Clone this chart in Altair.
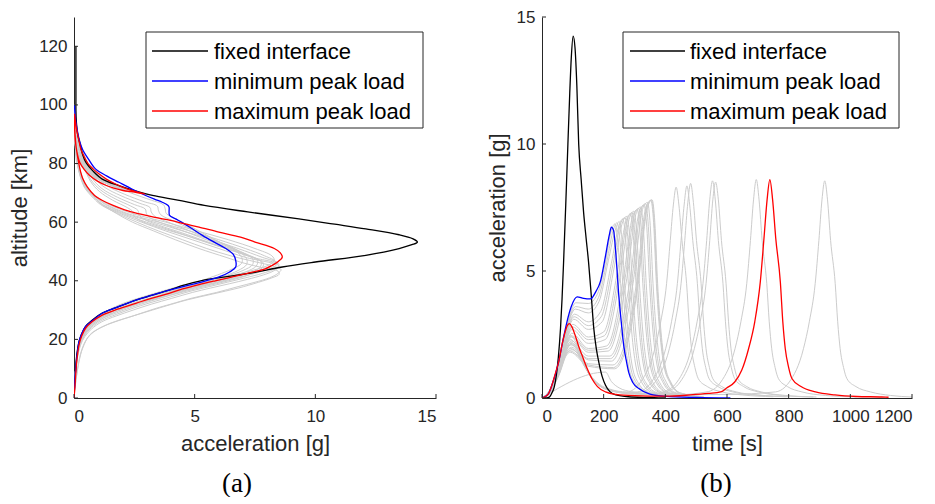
import altair as alt
import pandas as pd

# ---------------- panel (a): (altitude km, acceleration g) ----------------
black_a = [(120,0.08),(110,0.08),(102,0.08),(98,0.08),(94,0.1),(90,0.15),(86,0.27),(83,0.36),(80.3,0.5),(77.5,0.78),(74.7,1.17),(72.5,1.86),(70.8,2.5),(69.1,3.25),(67.5,4.3),(65.7,5.4),(63.5,7.2),(61.1,9.32),(59.3,10.8),(57.7,12.09),(55.7,13.47),(54.3,14.05),(53.2,14.23),(52.3,14.0),(51,13.47),(48.7,12.09),(46.4,10.0),(44.7,8.63),(42.5,7.25),(40,5.25),(38.5,4.55),(36.8,3.94),(35,3.2),(33.4,2.56),(31,1.8),(29,1.17),(26.5,0.75),(24.4,0.48),(21.5,0.3),(19.3,0.21),(15,0.12),(10,0.07),(5,0.03),(0,0)]
blue_a = [(100,0.02),(96,0.05),(92,0.12),(88,0.22),(84.9,0.35),(81.5,0.6),(78.1,0.9),(75.8,1.35),(73.6,1.86),(71.3,2.4),(69.1,2.97),(67.8,3.35),(66.8,3.66),(65.7,3.9),(65.1,3.94),(63.4,3.94),(62.3,3.96),(61.1,4.21),(60,4.45),(58,4.85),(55.5,5.32),(53,5.85),(51,6.29),(49,6.6),(47,6.7),(44.7,6.7),(43,6.45),(41.3,6.01),(39.6,5.32),(38.2,4.6),(36.8,3.94),(35,3.2),(33.4,2.56),(31,1.8),(28.9,1.17),(26.5,0.78),(24.4,0.48),(21.5,0.3),(19.3,0.21),(15,0.13),(10,0.07),(5,0.03),(0,0)]
red_a = [(97,0.02),(92,0.1),(88,0.2),(85,0.28),(82.7,0.4),(80,0.58),(78.1,0.8),(76.5,1.03),(74.7,1.34),(73.2,1.68),(71.9,2.03),(70.6,2.5),(69.6,2.93),(70.3,2.45),(70.8,2.03),(71.6,1.65),(72.5,1.34),(74,0.97),(75.9,0.65),(78,0.42),(80.4,0.24),(84,0.12),(88,0.05),(93,0.02),(96,0.01),(92,0.03),(88,0.06),(84.9,0.1),(80,0.2),(77,0.28),(74.7,0.37),(72,0.55),(69.1,0.85),(67.3,1.2),(65.7,1.62),(64.2,2.1),(62.8,2.72),(61.6,3.35),(60.6,4.0),(59.4,4.6),(58.3,5.18),(56.6,6.0),(54.9,6.9),(53.2,7.5),(51,8.3),(49.5,8.55),(48.1,8.63),(46.5,8.45),(45.2,8.2),(44,7.9),(42.7,7.25),(41.3,6.56),(40,5.85),(38.7,5.18),(37.2,4.5),(35.7,3.94),(34,3.2),(32.3,2.56),(30.3,1.8),(28.3,1.17),(26,0.75),(23.8,0.48),(21,0.31),(18.1,0.21),(13,0.12),(7.9,0.07),(3,0.03),(0,0)]

gray_a1 = [(100,0.02),(92,0.12),(86,0.3),(80,0.58),(76,0.95),(73,1.5),(70,2.35),(67.5,3.2),(66,3.7),(64.5,3.78),(63,3.82),(61,4.25),(58,4.95),(54,5.85),(50.5,6.65),(48,6.95),(46,6.95),(44,6.55),(42,5.95),(40,5.25),(37.5,4.1),(35,3.05),(32,1.95),(28.5,1.1),(24.5,0.5),(20,0.25),(12,0.09),(0,0)]
gray_a2 = [(100,0.02),(92,0.11),(86,0.28),(80,0.52),(76,0.85),(72.5,1.35),(69.5,2.1),(67,2.9),(65.5,3.45),(64,3.5),(62.5,3.6),(60.5,4.1),(57.5,4.9),(54,5.8),(50.5,6.75),(47.5,7.15),(45.5,7.15),(43.5,6.8),(41.5,6.2),(39.5,5.4),(37,4.2),(34.5,3.05),(31.5,1.95),(28,1.08),(24,0.5),(19.5,0.24),(11,0.08),(0,0)]
gray_a3 = [(100,0.02),(92,0.1),(86,0.25),(80,0.48),(75.5,0.8),(72,1.25),(69,1.95),(66.5,2.7),(65,3.15),(63.5,3.2),(62,3.35),(60,3.9),(57,4.8),(53.5,5.8),(50,6.9),(47.5,7.4),(45.5,7.4),(43.5,7.0),(41.5,6.3),(39.5,5.5),(37,4.3),(34.5,3.1),(31.5,1.95),(28,1.1),(24,0.5),(19.5,0.24),(11,0.08),(0,0)]
gray_a4 = [(100,0.02),(92,0.09),(86,0.22),(80,0.44),(75,0.75),(71.5,1.15),(68.5,1.8),(66,2.5),(64.5,2.95),(63,3.0),(61.5,3.15),(59.5,3.7),(56.5,4.7),(53,5.8),(49.5,7.0),(47,7.6),(45,7.55),(43,7.1),(41,6.4),(39,5.5),(36.5,4.3),(34,3.1),(31,1.95),(27.5,1.1),(23.5,0.5),(19,0.24),(11,0.08),(0,0)]
gray_a5 = [(100,0.02),(92,0.09),(86,0.2),(80,0.4),(74.5,0.7),(71,1.1),(68,1.7),(65.5,2.35),(64,2.65),(62.5,2.7),(61,2.9),(59,3.5),(56,4.6),(52.5,5.8),(49,7.1),(46.5,7.75),(44.5,7.7),(42.5,7.2),(40.5,6.4),(38.5,5.4),(36,4.2),(33.5,3.0),(30.5,1.9),(27,1.05),(23,0.5),(18.5,0.24),(10,0.08),(0,0)]
gray_a6 = [(100,0.02),(92,0.08),(86,0.18),(80,0.37),(74,0.68),(70.5,1.05),(67.5,1.6),(65,2.2),(63.5,2.45),(62,2.5),(60.5,2.75),(58.5,3.4),(55.5,4.6),(52,5.9),(48.5,7.2),(46,7.85),(44,7.75),(42,7.25),(40,6.4),(38,5.4),(35.5,4.2),(33,3.0),(30,1.9),(26.5,1.05),(22.5,0.5),(18,0.24),(10,0.08),(0,0)]
gray_s1 = [(97,0.01),(92,0.08),(88,0.16),(85,0.25),(82,0.38),(79,0.62),(76.5,0.95),(74.2,1.35),(72.3,1.85),(71,2.25),(70.3,2.45),(71,2.05),(72.2,1.65),(73.8,1.2),(76,0.75),(79,0.42),(83,0.18),(88,0.06),(94,0.02),(90,0.03),(85,0.08),(80,0.18),(75,0.36),(72,0.55),(70,0.75),(68,1.05),(66,1.45),(63,2.4),(60,3.8),(57,5.1),(54,6.4),(51,7.5),(48.5,8.2),(47,8.3),(45.5,8.1),(44,7.6),(42.5,6.9),(41,6.2),(39.5,5.45),(38,4.75),(36,3.95),(34,3.15),(32,2.4),(30,1.75),(28,1.15),(25.5,0.72),(23,0.45),(20,0.28),(16,0.16),(10,0.07),(0,0)]
gray_s2 = [(97,0.01),(92,0.07),(88,0.15),(85,0.24),(82,0.36),(79,0.58),(76.5,0.9),(74.2,1.28),(72.4,1.75),(71.2,2.1),(70.6,2.3),(71.3,1.95),(72.5,1.55),(74.1,1.12),(76.3,0.7),(79.5,0.38),(83.5,0.16),(88.5,0.05),(94,0.02),(90,0.03),(85,0.08),(80,0.17),(75,0.34),(72,0.52),(70,0.72),(68,1.0),(66,1.35),(63,2.2),(60,3.5),(57,4.8),(54,6.0),(51,7.1),(48.5,7.9),(46.5,8.35),(45,8.15),(43.5,7.65),(42,6.95),(40.5,6.2),(39,5.45),(37.5,4.75),(35.5,3.95),(33.5,3.15),(31.5,2.4),(29.5,1.75),(27.5,1.15),(25,0.72),(22.5,0.45),(19.5,0.27),(15.5,0.15),(10,0.07),(0,0)]
gray_s3 = [(97,0.01),(92,0.07),(88,0.14),(85,0.23),(82,0.35),(79,0.56),(76.5,0.86),(74.3,1.22),(72.6,1.65),(71.5,2.0),(70.9,2.2),(71.6,1.85),(72.8,1.45),(74.5,1.05),(76.7,0.66),(80,0.35),(84,0.15),(89,0.05),(94,0.02),(90,0.03),(85,0.07),(80,0.16),(75,0.32),(72,0.5),(70,0.7),(68,0.97),(66,1.3),(63,2.1),(60,3.3),(57,4.5),(54,5.7),(51,6.8),(48,7.8),(46,8.45),(44.5,8.2),(43,7.7),(41.5,7.0),(40,6.25),(38.5,5.5),(37,4.75),(35,3.95),(33,3.15),(31,2.4),(29,1.75),(27,1.15),(24.5,0.72),(22,0.45),(19,0.27),(15,0.15),(10,0.07),(0,0)]
gray_s4 = [(97,0.01),(92,0.07),(88,0.14),(85,0.22),(82,0.34),(79,0.54),(76.5,0.83),(74.4,1.18),(72.8,1.58),(71.8,1.9),(71.2,2.1),(71.9,1.78),(73.1,1.4),(74.8,1.0),(77,0.63),(80.3,0.33),(84.5,0.14),(89.5,0.05),(94,0.02),(90,0.03),(85,0.07),(80,0.15),(75,0.3),(72,0.48),(70,0.67),(68,0.92),(66,1.2),(63,2.0),(60,3.0),(57,4.1),(54,5.2),(51,6.3),(48,7.4),(45.5,8.5),(44,8.3),(42.5,7.8),(41,7.1),(39.5,6.35),(38,5.6),(36.5,4.85),(34.5,4.0),(32.5,3.15),(30.5,2.4),(28.5,1.75),(26.5,1.15),(24,0.72),(21.5,0.45),(18.5,0.27),(14.5,0.15),(9.5,0.07),(0,0)]
gray_s5 = [(97,0.01),(92,0.06),(88,0.13),(85,0.21),(82,0.33),(79,0.52),(76.5,0.8),(74.5,1.14),(73,1.5),(72.1,1.8),(71.5,2.0),(72.2,1.7),(73.4,1.33),(75.1,0.95),(77.3,0.6),(80.6,0.31),(84.8,0.13),(90,0.05),(94,0.02),(90,0.03),(85,0.07),(80,0.14),(75,0.28),(72,0.45),(70,0.64),(68,0.88),(66,1.15),(63,1.9),(60,2.8),(57,3.8),(54,4.9),(51,6.0),(48,7.1),(45,8.5),(43.5,8.3),(42,7.85),(40.5,7.2),(39,6.45),(37.5,5.65),(36,4.9),(34,4.05),(32,3.2),(30,2.45),(28,1.75),(26,1.15),(23.5,0.72),(21,0.45),(18,0.27),(14,0.15),(9,0.07),(0,0)]
gray_s6 = [(97,0.01),(92,0.06),(88,0.12),(85,0.2),(82,0.31),(79,0.5),(76.5,0.77),(74.6,1.1),(73.2,1.43),(72.3,1.7),(71.8,1.9),(72.5,1.6),(73.7,1.25),(75.4,0.9),(77.6,0.56),(81,0.29),(85,0.12),(90,0.04),(94,0.02),(90,0.03),(85,0.06),(80,0.13),(76,0.25),(72,0.42),(70,0.6),(68,0.83),(66,1.1),(63,1.8),(60,2.6),(57,3.5),(54,4.5),(51,5.5),(48.5,6.5),(46.5,7.5),(45,8.25),(43.8,8.58),(42.5,8.45),(41,8.1),(39.5,7.5),(38,6.8),(36,5.9),(34,4.85),(32,4.0),(30.6,3.4),(28,2.45),(26,1.7),(24,1.1),(21.5,0.65),(17,0.36),(12.5,0.21),(6,0.08),(0,0)]
gray_s7 = [(97,0.01),(92,0.05),(88,0.11),(85,0.18),(82,0.28),(79,0.45),(76.5,0.68),(75,0.88),(74,1.0),(74.8,0.85),(76.2,0.65),(78.5,0.42),(81.5,0.24),(85.5,0.1),(90,0.04),(94,0.02),(90,0.03),(85,0.06),(80,0.12),(76,0.3),(72,0.5),(69.5,0.75),(66.8,1.04),(63,1.75),(60,2.42),(57,3.3),(54,4.2),(51,5.18),(48,6.3),(46,7.05),(44.5,7.8),(43.3,8.45),(42.2,8.5),(41,8.2),(39.5,7.65),(37.5,6.8),(35.5,5.75),(33.5,4.7),(31.5,3.85),(30,3.25),(27.5,2.25),(25.5,1.5),(23,0.9),(20.5,0.56),(16.5,0.32),(12,0.19),(6,0.08),(0,0)]

# ---------------- panel (b): (time s, acceleration g) ----------------
black_b = [(0,0),(15,0.0),(25,0.05),(32,0.2),(40,0.45),(46,0.85),(53,1.6),(60,2.73),(65,3.9),(70,5.35),(77,7.6),(84,10.0),(90,12.0),(95,13.4),(101,14.25),(107,13.8),(113,12.3),(119,10.0),(127,8.6),(135,7.3),(143,6.3),(151,5.35),(160,4.0),(168,2.73),(176,1.95),(184,1.42),(195,0.85),(206,0.5),(220,0.25),(240,0.12),(280,0.05),(350,0.02),(400,0.0)]
blue_b = [(0,0),(20,0.15),(32,0.5),(54,1.42),(70,2.4),(81,3.0),(95,3.6),(114,3.98),(135,3.92),(157,3.9),(175,4.2),(189,4.57),(206,5.6),(218,6.4),(225,6.73),(232,6.6),(240,5.6),(249,4.04),(257,3.0),(265,2.07),(273,1.5),(281,1.02),(295,0.6),(314,0.37),(350,0.15),(400,0.06),(500,0.02),(611,0.0)]
red_b = [(0,0),(10,0.05),(20,0.15),(32,0.5),(43,0.95),(54,1.42),(65,2.1),(75,2.6),(82,2.85),(89,2.93),(97,2.8),(108,2.45),(120,2.0),(130,1.68),(145,1.2),(162,0.76),(180,0.45),(206,0.24),(240,0.14),(300,0.09),(400,0.07),(480,0.12),(540,0.18),(580,0.24),(600,0.4),(625,0.63),(648,1.1),(670,1.94),(690,3.0),(708,4.57),(720,6.3),(730,7.8),(739,8.6),(748,7.8),(758,6.3),(773,4.57),(781,3.0),(789,1.94),(800,1.2),(811,0.76),(840,0.45),(887,0.24),(950,0.12),(1020,0.06),(1102,0.04),(1124,0.03)]

gray_b01 = [(0,0),(30,0.45),(55,1.45),(80,2.8),(110,3.75),(150,3.72),(180,4.1),(205,5.3),(225,6.6),(236,6.85),(245,6.3),(255,4.5),(266,2.6),(280,1.3),(300,0.6),(340,0.2),(420,0.05)]
gray_b02 = [(0,0),(30,0.42),(55,1.4),(80,2.7),(108,3.5),(150,3.35),(185,3.8),(215,5.4),(240,6.7),(250,6.95),(259,6.3),(268,4.5),(279,2.6),(292,1.3),(312,0.6),(350,0.2),(430,0.05)]
gray_b03 = [(0,0),(30,0.4),(55,1.35),(80,2.6),(105,3.3),(150,3.0),(190,3.4),(225,5.3),(250,6.8),(262,7.05),(271,6.3),(280,4.5),(291,2.6),(304,1.3),(324,0.6),(360,0.2),(440,0.05)]
gray_b04 = [(0,0),(30,0.4),(55,1.3),(80,2.5),(103,3.1),(150,2.7),(195,3.0),(235,5.2),(262,6.95),(275,7.15),(284,6.4),(293,4.5),(304,2.6),(317,1.3),(337,0.6),(375,0.2),(450,0.05)]
gray_b05 = [(0,0),(30,0.4),(55,1.25),(80,2.4),(100,2.9),(150,2.4),(200,2.6),(245,5.0),(273,7.0),(287,7.25),(296,6.4),(305,4.5),(316,2.6),(329,1.3),(349,0.6),(385,0.2),(460,0.05)]
gray_b06 = [(0,0),(30,0.38),(55,1.2),(80,2.3),(98,2.7),(150,2.15),(205,2.3),(255,4.9),(284,7.1),(298,7.35),(307,6.5),(316,4.5),(327,2.6),(340,1.3),(360,0.6),(395,0.2),(470,0.05)]
gray_b07 = [(0,0),(30,0.38),(55,1.15),(80,2.2),(97,2.55),(150,1.95),(210,2.05),(265,4.8),(295,7.2),(309,7.42),(318,6.5),(327,4.5),(338,2.6),(351,1.3),(371,0.6),(405,0.2),(480,0.05)]
gray_b08 = [(0,0),(30,0.36),(55,1.1),(80,2.1),(96,2.4),(150,1.8),(215,1.85),(275,4.7),(306,7.3),(320,7.52),(329,6.6),(338,4.5),(349,2.6),(362,1.3),(382,0.6),(415,0.2),(490,0.05)]
gray_b09 = [(0,0),(30,0.35),(55,1.05),(80,2.0),(95,2.25),(150,1.65),(220,1.65),(285,4.6),(317,7.4),(331,7.6),(340,6.7),(349,4.5),(360,2.6),(373,1.3),(393,0.6),(425,0.2),(500,0.05)]
gray_b10 = [(0,0),(30,0.34),(55,1.0),(80,1.9),(94,2.1),(150,1.5),(225,1.45),(295,4.5),(328,7.5),(342,7.7),(351,6.8),(360,4.5),(371,2.6),(384,1.3),(404,0.6),(435,0.2),(510,0.05)]
gray_b11 = [(0,0),(30,0.33),(55,0.95),(80,1.8),(93,1.95),(150,1.35),(230,1.3),(305,4.4),(338,7.55),(353,7.78),(362,6.9),(371,4.5),(382,2.6),(395,1.3),(415,0.6),(445,0.2),(520,0.05)]
gray_b12 = [(0,0),(30,0.32),(55,0.9),(80,1.7),(92,1.8),(150,1.25),(235,1.15),(310,4.3),(342,7.5),(357,7.8),(366,6.9),(375,4.5),(386,2.6),(399,1.3),(419,0.6),(449,0.2),(525,0.05)]
gray_b13 = [(0,0),(20,0.12),(32,0.42),(54,1.2),(75,2.1),(92,2.45),(110,2.2),(130,1.6),(155,0.95),(185,0.55),(220,0.35),(275,0.24),(320,0.63),(366,1.94),(385,3.0),(404,4.5),(416,6.2),(426,7.6),(435,8.3),(444,7.6),(454,6.2),(469,4.5),(477,3.0),(485,1.94),(496,1.2),(507,0.76),(536,0.45),(583,0.24),(650,0.12),(750,0.05)]
gray_b14 = [(0,0),(20,0.12),(32,0.4),(54,1.15),(75,2.0),(93,2.3),(110,2.1),(130,1.5),(155,0.9),(185,0.5),(220,0.32),(270,0.22),(310,0.24),(355,0.63),(401,1.94),(420,3.0),(439,4.5),(451,6.2),(461,7.6),(470,8.35),(479,7.6),(489,6.2),(504,4.5),(512,3.0),(520,1.94),(531,1.2),(542,0.76),(571,0.45),(618,0.24),(690,0.12),(790,0.05)]
gray_b15 = [(0,0),(20,0.12),(32,0.38),(54,1.1),(75,1.9),(94,2.2),(112,2.0),(132,1.45),(157,0.85),(187,0.48),(225,0.3),(280,0.2),(322,0.24),(367,0.63),(413,1.94),(432,3.0),(451,4.5),(463,6.2),(473,7.7),(482,8.45),(491,7.7),(501,6.2),(516,4.5),(524,3.0),(532,1.94),(543,1.2),(554,0.76),(583,0.45),(630,0.24),(700,0.12),(800,0.05)]
gray_b16 = [(0,0),(20,0.11),(32,0.36),(54,1.05),(75,1.8),(95,2.1),(113,1.9),(133,1.4),(158,0.82),(190,0.45),(230,0.27),(290,0.18),(360,0.16),(393,0.24),(438,0.63),(484,1.94),(503,3.0),(522,4.5),(534,6.2),(544,7.8),(553,8.55),(562,7.8),(572,6.2),(587,4.5),(595,3.0),(603,1.94),(614,1.2),(625,0.76),(654,0.45),(701,0.24),(780,0.1),(880,0.04)]
gray_b17 = [(0,0),(20,0.11),(32,0.35),(54,1.0),(75,1.72),(96,2.0),(114,1.82),(134,1.35),(160,0.8),(192,0.44),(232,0.26),(300,0.17),(370,0.16),(403,0.24),(448,0.63),(494,1.94),(513,3.0),(532,4.5),(544,6.2),(554,7.8),(563,8.5),(572,7.8),(582,6.2),(597,4.5),(605,3.0),(613,1.94),(624,1.2),(635,0.76),(664,0.45),(711,0.24),(790,0.1),(890,0.04)]
gray_b18 = [(0,0),(20,0.1),(32,0.33),(54,0.95),(75,1.65),(97,1.9),(115,1.75),(135,1.3),(162,0.78),(195,0.42),(235,0.25),(300,0.15),(420,0.12),(535,0.24),(580,0.63),(626,1.94),(645,3.0),(664,4.5),(676,6.2),(686,7.8),(695,8.6),(704,7.8),(714,6.2),(729,4.5),(737,3.0),(745,1.94),(756,1.2),(767,0.76),(796,0.45),(843,0.24),(920,0.1),(1020,0.04)]
gray_b19 = [(0,0),(206,1.02),(225,0.65),(250,0.4),(290,0.25),(350,0.17),(450,0.13),(600,0.14),(757,0.24),(802,0.63),(848,1.94),(867,3.0),(886,4.5),(898,6.2),(908,7.8),(917,8.55),(926,7.8),(936,6.2),(951,4.5),(959,3.0),(967,1.94),(978,1.2),(989,0.76),(1018,0.45),(1065,0.24),(1130,0.1),(1200,0.04)]
gray_b20 = [(0,0),(30,0.43),(55,1.42),(80,2.75),(109,3.6),(150,3.5),(183,3.95),(210,5.35),(232,6.65),(243,6.9),(252,6.3),(262,4.5),(273,2.6),(286,1.3),(306,0.6),(345,0.2),(425,0.05)]
gray_b21 = [(0,0),(30,0.4),(55,1.32),(80,2.55),(104,3.2),(150,2.85),(192,3.2),(230,5.25),(256,6.9),(269,7.1),(278,6.35),(287,4.5),(298,2.6),(311,1.3),(331,0.6),(368,0.2),(445,0.05)]
gray_b22 = [(0,0),(30,0.39),(55,1.22),(80,2.35),(99,2.8),(150,2.3),(202,2.45),(250,4.95),(278,7.05),(292,7.3),(301,6.45),(310,4.5),(321,2.6),(334,1.3),(354,0.6),(390,0.2),(465,0.05)]
gray_b23 = [(0,0),(30,0.37),(55,1.12),(80,2.15),(96,2.45),(150,1.88),(212,1.95),(270,4.75),(300,7.25),(314,7.47),(323,6.55),(332,4.5),(343,2.6),(356,1.3),(376,0.6),(410,0.2),(485,0.05)]
gray_b24 = [(0,0),(30,0.34),(55,1.02),(80,1.95),(94,2.15),(150,1.55),(222,1.55),(290,4.55),(322,7.45),(336,7.65),(345,6.75),(354,4.5),(365,2.6),(378,1.3),(398,0.6),(430,0.2),(505,0.05)]
gray_b25 = [(0,0),(30,0.32),(55,0.92),(80,1.75),(92,1.85),(150,1.3),(232,1.2),(308,4.35),(340,7.5),(355,7.8),(364,6.9),(373,4.5),(384,2.6),(397,1.3),(417,0.6),(447,0.2),(522,0.05)]

series_names = ["fixed interface", "minimum peak load", "maximum peak load"]
series_colors = ["#000000", "#0000ff", "#ff0000"]
gray_color = "#cccccc"

ticks_a_x = [0, 5, 10, 15]
ticks_a_y = [0, 20, 40, 60, 80, 100, 120]
ticks_b_x = [0, 200, 400, 600, 800, 1000, 1200]
ticks_b_y = [0, 5, 10, 15]

AX = "#262626"
FONT = "Liberation Sans"


def frame(curves, names, swap):
    rows = []
    for name, pts in zip(names, curves):
        for i, (p, q) in enumerate(pts):
            if swap:
                rows.append({"curve": name, "i": i, "x": q, "y": p})
            else:
                rows.append({"curve": name, "i": i, "x": p, "y": q})
    return pd.DataFrame(rows)


gray_a_list = [gray_a1, gray_a2, gray_a3, gray_a4, gray_a5, gray_a6,
               gray_s1, gray_s2, gray_s3, gray_s4, gray_s5, gray_s6, gray_s7]
gray_b_list = [gray_b01, gray_b02, gray_b03, gray_b04, gray_b05, gray_b06, gray_b07,
               gray_b08, gray_b09, gray_b10, gray_b11, gray_b12, gray_b13, gray_b14,
               gray_b15, gray_b16, gray_b17, gray_b18, gray_b19, gray_b20, gray_b21,
               gray_b22, gray_b23, gray_b24, gray_b25]

df_gray_a = frame(gray_a_list, [f"g{k}" for k in range(len(gray_a_list))], True)
df_col_a = frame([black_a, blue_a, red_a], series_names, True)
df_gray_b = frame(gray_b_list, [f"g{k}" for k in range(len(gray_b_list))], False)
df_col_b = frame([black_b, blue_b, red_b], series_names, False)

WA, WB, H = 362, 370, 381


def legend_layers(lx, ly, lw, lh, sym_x0, sym_x1, text_x, row_y0, row_dy):
    layers = [alt.Chart(pd.DataFrame({"k": [0]})).mark_rect(
        fill="#ffffff", stroke=AX, strokeWidth=1).encode(
        x=alt.value(lx), x2=alt.value(lx + lw), y=alt.value(ly), y2=alt.value(ly + lh))]
    for k, (name, colr) in enumerate(zip(series_names, series_colors)):
        yy = row_y0 + k * row_dy
        layers.append(alt.Chart(pd.DataFrame({"s": [name]})).mark_rule(
            color=colr, strokeWidth=1.3).encode(
            x=alt.value(sym_x0), x2=alt.value(sym_x1), y=alt.value(yy)))
        layers.append(alt.Chart(pd.DataFrame({"s": [name]})).mark_text(
            align="left", baseline="middle", font=FONT, fontSize=22, color="#000000").encode(
            x=alt.value(text_x), y=alt.value(yy + 1), text="s:N"))
    return layers


def panel(df_gray, df_col, xdom, ydom, xt, yt, xtitle, ytitle, interp, width, leg, cap, capdx):
    xs = alt.Scale(domain=xdom, nice=False, zero=False)
    ys = alt.Scale(domain=ydom, nice=False, zero=False)
    xa = alt.Axis(values=xt, title=xtitle, tickSize=0, labelPadding=10, titlePadding=9, format="d")
    ya = alt.Axis(values=yt, title=ytitle, tickSize=0, labelPadding=7, titlePadding=7, format="d")
    gray = alt.Chart(df_gray).mark_line(color=gray_color, strokeWidth=1, interpolate=interp, clip=True).encode(
        x=alt.X("x:Q", scale=xs, axis=xa),
        y=alt.Y("y:Q", scale=ys, axis=ya),
        detail="curve:N",
        order="i:Q",
    )
    col = alt.Chart(df_col).mark_line(strokeWidth=1.3, interpolate=interp, clip=True).encode(
        x=alt.X("x:Q", scale=xs),
        y=alt.Y("y:Q", scale=ys),
        color=alt.Color("curve:N", scale=alt.Scale(domain=series_names, range=series_colors), legend=None),
        order="i:Q",
    )
    tx = alt.Chart(pd.DataFrame({"v": xt})).mark_rule(color=AX, strokeWidth=1).encode(
        x=alt.X("v:Q", scale=xs), y=alt.value(H), y2=alt.value(H - 4))
    ty = alt.Chart(pd.DataFrame({"v": yt})).mark_rule(color=AX, strokeWidth=1).encode(
        y=alt.Y("v:Q", scale=ys), x=alt.value(0), x2=alt.value(4))
    return alt.layer(gray, col, tx, ty, *legend_layers(*leg)).properties(
        width=width, height=H,
        title=alt.TitleParams(cap, orient="bottom", anchor="middle", frame="group", dx=capdx,
                              font="Liberation Serif", fontSize=27, fontWeight="normal",
                              color="#000000", offset=17))


left = panel(df_gray_a, df_col_a, [0, 15], [0, 130], ticks_a_x, ticks_a_y,
             "acceleration [g]", "altitude [km]", "catmull-rom", WA,
             (72, 15, 277, 96, 78, 134, 140, 34, 30), "(a)", -18)
right = panel(df_gray_b, df_col_b, [0, 1200], [0, 15], ticks_b_x, ticks_b_y,
              "time [s]", "acceleration [g]", "monotone", WB,
              (81, 15, 276, 96, 88, 143, 148, 34, 30), "(b)", -11)

chart = alt.hconcat(left, right, spacing=106, bounds="flush").resolve_scale(
    color="independent").properties(
    padding={"left": 0, "top": 0, "right": 0, "bottom": 0}, background="#ffffff"
).configure_view(strokeWidth=0).configure_axis(
    domainColor=AX, domainWidth=1, labelFont=FONT, labelFontSize=17, labelColor=AX,
    titleFont=FONT, titleFontSize=22, titleFontWeight="normal", titleColor=AX, grid=False
)

chart.save("out.html", embed_options={"renderer": "svg", "actions": False})
